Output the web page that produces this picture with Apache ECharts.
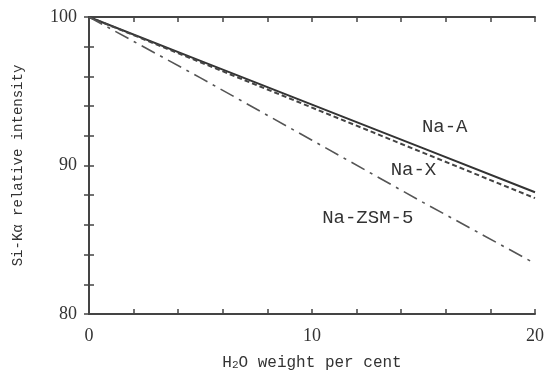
<!DOCTYPE html>
<html>
<head>
<meta charset="utf-8">
<script src="https://cdn.jsdelivr.net/npm/echarts@6/dist/echarts.min.js"></script>
<style>
  html, body { margin: 0; padding: 0; background: #fff; }
  #chart { width: 547px; height: 388px; }
</style>
</head>
<body>
<div id="chart"></div>
<script>
// H2O weight per cent
const waterContent = [0, 5, 10, 15, 20];
// Si-K alpha relative intensity
const naA = [100, 97.05, 94.1, 91.15, 88.2];
const naX = [100, 96.95, 93.9, 90.85, 87.8];
const naZSM5 = [100, 95.9, 91.7, 87.5, 83.4];

const lineColor = '#333';
const serif = '"Liberation Serif", "DejaVu Serif", serif';
const mono = '"Liberation Mono", "DejaVu Sans Mono", monospace';

const pairs = (ys) => waterContent.map((x, i) => [x, ys[i]]);

// text label placed in data space next to each curve
const curveLabel = (text, coord) => ({
    symbol: 'circle',
    symbolSize: 1,
    itemStyle: { color: 'rgba(0,0,0,0)' },
    label: { show: true, position: 'inside', formatter: text, color: '#333', fontFamily: mono, fontSize: 19 },
    data: [{ coord: coord }]
});

const tickStyle = {
    show: true,
    inside: true,
    length: 5,
    lineStyle: { color: '#444', width: 1.5 }
};

const chart = echarts.init(document.getElementById('chart'));
chart.setOption({
    animation: false,
    grid: { left: 89, right: 10, top: 17, bottom: 74 },
    xAxis: [
        {
            type: 'value',
            min: 0, max: 20, interval: 10,
            axisLine: { show: true, lineStyle: { color: '#444', width: 2 } },
            axisTick: tickStyle,
            minorTick: { show: true, splitNumber: 5, length: 5, lineStyle: { color: '#444', width: 1.5 } },
            splitLine: { show: false },
            axisLabel: { margin: 13, color: '#333', fontFamily: serif, fontSize: 18 },
            name: '{a|H}{s|2}{a|O weight per cent}',
            nameLocation: 'middle',
            nameGap: 40,
            nameTextStyle: {
                rich: {
                    a: { fontFamily: mono, fontSize: 16, color: '#333' },
                    s: { fontFamily: mono, fontSize: 11, color: '#333', verticalAlign: 'bottom', padding: [6, 0, 0, 0] }
                }
            }
        },
        {
            type: 'value',
            position: 'top',
            min: 0, max: 20, interval: 10,
            axisLine: { show: true, lineStyle: { color: '#444', width: 2 } },
            axisTick: tickStyle,
            minorTick: { show: true, splitNumber: 5, length: 5, lineStyle: { color: '#444', width: 1.5 } },
            splitLine: { show: false },
            axisLabel: { show: false }
        }
    ],
    yAxis: [
        {
            type: 'value',
            min: 80, max: 100, interval: 10,
            axisLine: { show: true, lineStyle: { color: '#444', width: 2 } },
            axisTick: tickStyle,
            minorTick: { show: true, splitNumber: 5, length: 5, lineStyle: { color: '#444', width: 1.5 } },
            splitLine: { show: false },
            axisLabel: { margin: 12, color: '#333', fontFamily: serif, fontSize: 18 },
            name: 'Si-Kα relative intensity',
            nameLocation: 'middle',
            nameRotate: 90,
            nameGap: 64,
            nameTextStyle: { fontFamily: mono, fontSize: 14, color: '#333' }
        },
        {
            type: 'value',
            position: 'right',
            min: 80, max: 100, interval: 10,
            axisLine: { show: true, lineStyle: { color: '#444', width: 2 } },
            axisTick: tickStyle,
            minorTick: { show: true, splitNumber: 5, length: 5, lineStyle: { color: '#444', width: 1.5 } },
            splitLine: { show: false },
            axisLabel: { show: false }
        }
    ],
    series: [
        {
            name: 'Na-A',
            type: 'line',
            data: pairs(naA),
            showSymbol: false,
            lineStyle: { color: lineColor, width: 2 },
            markPoint: curveLabel('Na-A', [15.95, 92.6])
        },
        {
            name: 'Na-X',
            type: 'line',
            data: pairs(naX),
            showSymbol: false,
            lineStyle: { color: '#444', width: 2, type: [5, 3] },
            markPoint: curveLabel('Na-X', [14.55, 89.7])
        },
        {
            name: 'Na-ZSM-5',
            type: 'line',
            data: pairs(naZSM5),
            showSymbol: false,
            lineStyle: { color: '#555', width: 1.6, type: [15, 6, 3, 6] },
            markPoint: curveLabel('Na-ZSM-5', [12.5, 86.5])
        }
    ]
});
</script>
</body>
</html>
